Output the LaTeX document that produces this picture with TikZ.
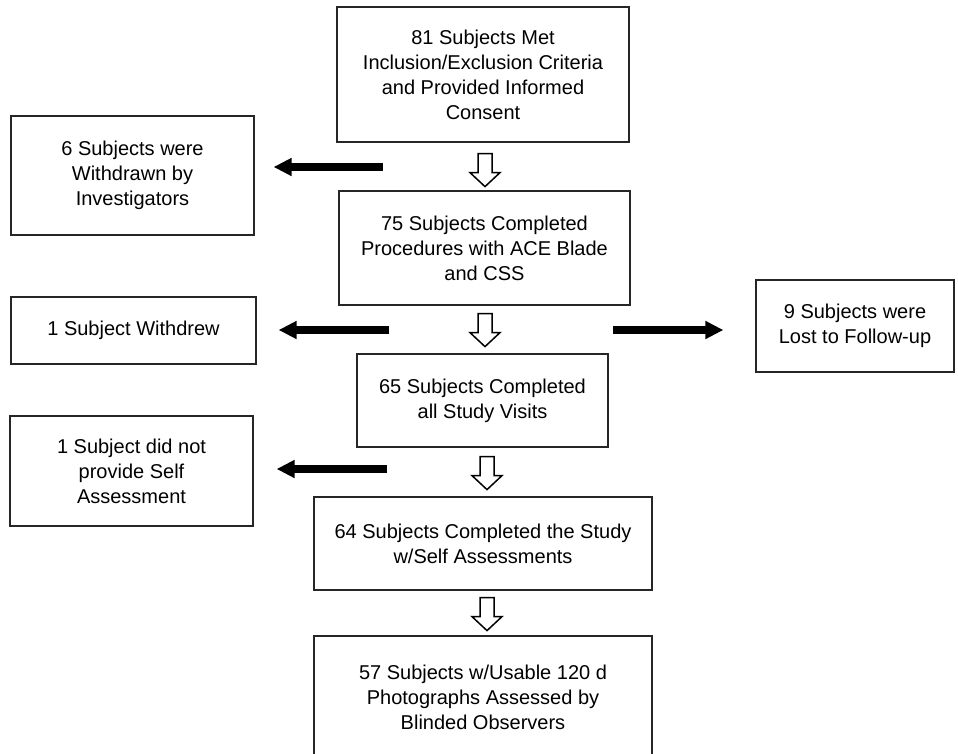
\documentclass[tikz,border=0pt]{standalone}
\usepackage{fontspec}
\setmainfont{Liberation Sans}
\usetikzlibrary{arrows.meta}

\tikzset{
  box/.style={draw=black!85, line width=1.2pt, align=center, inner sep=0pt,
    font=\fontsize{20}{25}\selectfont},
  exclude/.style={line width=8pt, -{Triangle[length=18pt,width=17pt]}},
  hollow/.style={draw=black, line width=1.5pt, fill=white, line join=miter}
}

\begin{document}
\begin{tikzpicture}[x=1pt,y=1pt]
\useasboundingbox (0,0) rectangle (958,-753);

% main column
\node[box, minimum width=292pt, minimum height=135pt] (consent) at (483,-74.5)
  {81 Subjects Met\\Inclusion/Exclusion Criteria\\and Provided Informed\\Consent};
\node[box, minimum width=291pt, minimum height=114pt] (procedures) at (484.5,-248)
  {75 Subjects Completed\\Procedures with ACE Blade\\and CSS};
\node[box, minimum width=251pt, minimum height=93pt] (visits) at (482.5,-400.5)
  {65 Subjects Completed\\all Study Visits};
\node[box, minimum width=338pt, minimum height=93pt] (selfassess) at (483,-543.5)
  {64 Subjects Completed the Study\\w/Self Assessments};
\node[box, minimum width=338pt, minimum height=123pt] (observers) at (483,-697.5)
  {57 Subjects w/Usable 120 d\\Photographs Assessed by\\Blinded Observers};

% side boxes
\node[box, minimum width=243pt, minimum height=119pt] (withdrawn) at (132.5,-175.5)
  {6 Subjects were\\Withdrawn by\\Investigators};
\node[box, minimum width=245pt, minimum height=67pt] (withdrew) at (133.5,-330.5)
  {1 Subject Withdrew};
\node[box, minimum width=243pt, minimum height=110pt] (noself) at (131.5,-471)
  {1 Subject did not\\provide Self\\Assessment};
\node[box, minimum width=198pt, minimum height=92pt] (lost) at (855,-326)
  {9 Subjects were\\Lost to Follow-up};

% hollow arrows down the column
\draw[hollow] ([shift={(-5,-11)}]consent.south) -- ++(14,0) -- ++(0,-19) -- ++(8,0)
  -- ++(-15,-14) -- ++(-15,14) -- ++(8,0) -- cycle;
\draw[hollow] ([shift={(-6.5,-8)}]procedures.south) -- ++(14,0) -- ++(0,-19) -- ++(8,0)
  -- ++(-15,-14) -- ++(-15,14) -- ++(8,0) -- cycle;
\draw[hollow] ([shift={(-2.5,-9)}]visits.south) -- ++(14,0) -- ++(0,-19) -- ++(8,0)
  -- ++(-15,-14) -- ++(-15,14) -- ++(8,0) -- cycle;
\draw[hollow] ([shift={(-3,-7)}]selfassess.south) -- ++(14,0) -- ++(0,-19) -- ++(8,0)
  -- ++(-15,-14) -- ++(-15,14) -- ++(8,0) -- cycle;

% black arrows to the side boxes
\coordinate (out1) at (383,-167);
\coordinate (out2) at (389,-330);
\coordinate (out3) at (387,-469);
\coordinate (out4) at (613,-330);

\draw[exclude, shorten >=19pt] (out1) -- (withdrawn.east |- out1);
\draw[exclude, shorten >=22pt] (out2) -- (withdrew.east |- out2);
\draw[exclude, shorten >=23pt] (out3) -- (noself.east |- out3);
\draw[exclude, shorten >=32pt] (out4) -- (lost.west |- out4);

\end{tikzpicture}
\end{document}
